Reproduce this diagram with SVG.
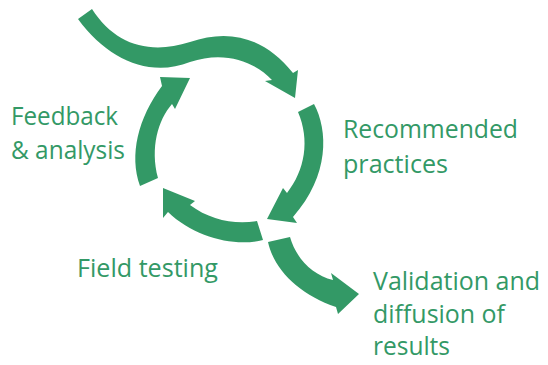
<svg xmlns="http://www.w3.org/2000/svg" width="548" height="365" viewBox="0 0 548 365">
<style>
.arrow{fill:#339966;stroke:none}
.lbl{fill:#339966;font-family:"Open Sans","Noto Sans","Liberation Sans",sans-serif;font-size:25px}
</style>
<rect width="548" height="365" fill="#ffffff"/>
<g id="connectors">
<path id="entry" class="arrow" d="M92,9 C115,45 150,55 190,42 C230,28 265,38 293,73 L298,70 L295,98 L265,81 L272,80 C255,62 225,50 190,62 C150,78 108,60 78,19 Z"/>
<path id="arc-right" class="arrow" d="M298,112 L314,104 C328,130 330,175 293,217 L297,223 L267,219 L283,188 L287,193 C305,170 310,140 298,112 Z"/>
<path id="arc-bottom" class="arrow" d="M257,221 L263,240 C235,247 195,238 168,212 L163,218 L163,188 L195,201 L190,205 C210,220 235,225 257,221 Z"/>
<path id="arc-left" class="arrow" d="M140,186 C129,155 138,118 162,86 L160,77 L190,78 L175,109 L172,104 C158,120 150,148 158,178 Z"/>
<path id="exit" class="arrow" d="M268,242 L290,237 C296,258 312,275 333,280 L331,273 L359,294 L338,314 L336,307 C300,295 274,270 268,242 Z"/>
</g>
<g id="feedback">
<text class="lbl" x="11" y="125" textLength="107" lengthAdjust="spacingAndGlyphs">Feedback</text>
<text class="lbl" x="11" y="159" textLength="114" lengthAdjust="spacingAndGlyphs">&amp; analysis</text>
</g>
<g id="recommended">
<text class="lbl" x="343" y="138" textLength="175" lengthAdjust="spacingAndGlyphs">Recommended</text>
<text class="lbl" x="343" y="173" textLength="105" lengthAdjust="spacingAndGlyphs">practices</text>
</g>
<g id="field-testing">
<text class="lbl" x="77" y="277" textLength="141" lengthAdjust="spacingAndGlyphs">Field testing</text>
</g>
<g id="validation">
<text class="lbl" x="373" y="290" textLength="167" lengthAdjust="spacingAndGlyphs">Validation and</text>
<text class="lbl" x="373" y="323" textLength="132" lengthAdjust="spacingAndGlyphs">diffusion of</text>
<text class="lbl" x="373" y="355" textLength="77" lengthAdjust="spacingAndGlyphs">results</text>
</g>
</svg>
